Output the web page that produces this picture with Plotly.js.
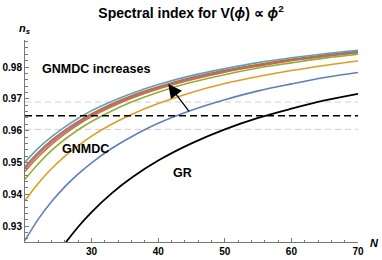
<!DOCTYPE html>
<html>
<head>
<meta charset="utf-8">
<script src="https://cdn.plot.ly/plotly-3.0.1.min.js"></script>
<style>html,body{margin:0;padding:0;background:#fff;}#chart{width:382px;height:260px;}</style>
</head>
<body>
<div id="chart"></div>
<script>
// e-folding numbers
const N = [20, 22, 24, 26, 28, 30, 33, 36, 40, 45, 50, 55, 60, 65, 70];
// GNMDC curves (coupling increasing upward)
const ns1 = [0.9255, 0.9322, 0.9377, 0.9424, 0.9464, 0.9499, 0.9544, 0.9581, 0.9623, 0.9664, 0.9697, 0.9725, 0.9747, 0.9767, 0.9783];
const ns2 = [0.9380, 0.9435, 0.9481, 0.9520, 0.9553, 0.9583, 0.9620, 0.9651, 0.9685, 0.9720, 0.9748, 0.9770, 0.9789, 0.9805, 0.9819];
const ns3 = [0.9447, 0.9496, 0.9538, 0.9573, 0.9603, 0.9629, 0.9662, 0.9690, 0.9721, 0.9752, 0.9776, 0.9797, 0.9813, 0.9828, 0.9840];
const ns4 = [0.9472, 0.9518, 0.9557, 0.9590, 0.9619, 0.9644, 0.9675, 0.9702, 0.9731, 0.9760, 0.9784, 0.9803, 0.9820, 0.9833, 0.9845];
const ns5 = [0.9480, 0.9526, 0.9564, 0.9596, 0.9624, 0.9649, 0.9680, 0.9706, 0.9735, 0.9764, 0.9787, 0.9806, 0.9822, 0.9835, 0.9847];
const ns6 = [0.9487, 0.9532, 0.9570, 0.9602, 0.9629, 0.9653, 0.9684, 0.9710, 0.9738, 0.9767, 0.9790, 0.9808, 0.9824, 0.9838, 0.9849];
const ns7 = [0.9501, 0.9545, 0.9581, 0.9612, 0.9639, 0.9663, 0.9692, 0.9717, 0.9745, 0.9773, 0.9795, 0.9814, 0.9829, 0.9842, 0.9853];
// GR curve
const N_GR = [24, 26, 28, 30, 33, 36, 40, 45, 50, 55, 60, 65, 70];
const ns_GR = [0.9184, 0.9245, 0.9298, 0.9344, 0.9403, 0.9452, 0.9506, 0.9560, 0.9604, 0.9640, 0.9669, 0.9695, 0.9716];
// observational band (lower, central, upper)
const obsBand = [0.9604, 0.9647, 0.9690];
const xTicks = [30, 40, 50, 60, 70];
const yTicks = [0.93, 0.94, 0.95, 0.96, 0.97, 0.98];

const colors = ['#5E81B5', '#E19C24', '#8FB032', '#EB6235', '#8778B3', '#C56E1A', '#5D9EC7'];
const series = [ns1, ns2, ns3, ns4, ns5, ns6, ns7];
const xr = [20, 70];

const traces = [];
// band lines
traces.push({x: xr, y: [obsBand[0], obsBand[0]], mode: 'lines', line: {color: '#cfcfcf', width: 1, dash: '6px,4px'}});
traces.push({x: xr, y: [obsBand[2], obsBand[2]], mode: 'lines', line: {color: '#cfcfcf', width: 1, dash: '6px,4px'}});
series.forEach((s, i) => traces.push({x: N, y: s, mode: 'lines', line: {color: colors[i], width: 1.6, shape: 'spline'}}));
traces.push({x: N_GR, y: ns_GR, mode: 'lines', line: {color: '#000', width: 1.8, shape: 'spline'}});
traces.push({x: xr, y: [obsBand[1], obsBand[1]], mode: 'lines', line: {color: '#000', width: 1.6, dash: '7px,4px'}});

const F = 'Liberation Sans, Arial, sans-serif';
const layout = {
  width: 382, height: 260,
  margin: {l: 25, r: 24, t: 40, b: 18, pad: 0},
  paper_bgcolor: '#fff', plot_bgcolor: '#fff',
  showlegend: false,
  title: {text: '<b>Spectral index for V(<i>ϕ</i>) ∝ <i>ϕ</i><sup>2</sup></b>', x: 0.5, xref: 'container', y: 0.949, yanchor: 'middle', font: {family: F, size: 14, color: '#000'}},
  xaxis: {range: xr, showgrid: false, zeroline: false, showline: true, linecolor: '#777', linewidth: 1,
    tickmode: 'array', tickvals: xTicks, ticks: 'inside', ticklen: 4, tickcolor: '#777',
    tickfont: {family: F, size: 10, color: '#000', weight: 'bold'},
    minor: {dtick: 2, tick0: 20, ticks: 'inside', ticklen: 2.5, tickcolor: '#777', showgrid: false},
    automargin: false, fixedrange: true},
  yaxis: {range: [0.925, 0.9885], showgrid: false, zeroline: false, showline: true, linecolor: '#777', linewidth: 1,
    tickmode: 'array', tickvals: yTicks, ticktext: yTicks.map(v => v.toFixed(2)), ticks: 'inside', ticklen: 4, tickcolor: '#777',
    tickfont: {family: F, size: 10, color: '#000', weight: 'bold'},
    minor: {dtick: 0.002, tick0: 0.93, ticks: 'inside', ticklen: 2.5, tickcolor: '#777', showgrid: false},
    automargin: false, fixedrange: true},
  annotations: [
    {xref: 'paper', yref: 'paper', x: 0, y: 1.0545, text: '<b><i>n<sub>s</sub></i></b>', showarrow: false, xanchor: 'center', yanchor: 'middle', font: {family: F, size: 11, color: '#000'}},
    {xref: 'paper', yref: 'paper', x: 1.05, y: -0.006, text: '<b><i>N</i></b>', showarrow: false, xanchor: 'center', yanchor: 'middle', font: {family: F, size: 11, color: '#000'}},
    {x: 30.7, y: 0.9793, text: '<b>GNMDC increases</b>', showarrow: false, xanchor: 'center', yanchor: 'middle', font: {family: F, size: 12.5, color: '#000'}},
    {x: 29.15, y: 0.9541, text: '<b>GNMDC</b>', showarrow: false, xanchor: 'center', yanchor: 'middle', font: {family: F, size: 12.5, color: '#000'}},
    {x: 43.7, y: 0.9467, text: '<b>GR</b>', showarrow: false, xanchor: 'center', yanchor: 'middle', font: {family: F, size: 12.5, color: '#000'}},
    {x: 41.5, y: 0.9747, text: '', showarrow: true, ax: 22, ay: 29, arrowhead: 2, arrowsize: 2.1, arrowwidth: 1.3, arrowcolor: '#000', standoff: 0}
  ]
};
Plotly.newPlot('chart', traces, layout, {staticPlot: true, displayModeBar: false});
</script>
</body>
</html>
